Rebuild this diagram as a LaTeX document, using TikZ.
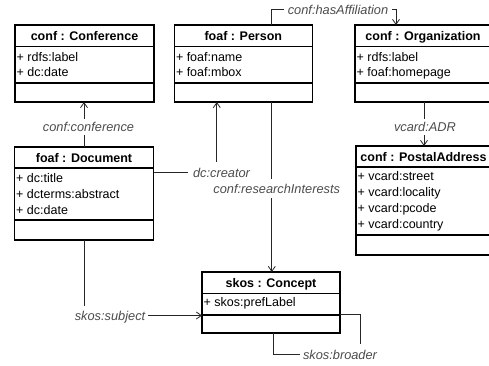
\documentclass[tikz,border=0pt]{standalone}
\usepackage{fontspec}
\setmainfont{Liberation Sans}
\usetikzlibrary{arrows.meta,calc}
\begin{document}
\begin{tikzpicture}[x=1pt,y=-1pt,
  box/.style={draw, line width=1.5pt, inner sep=0pt, outer sep=0pt, anchor=north west},
  sepline/.style={line width=1.5pt},
  ttl/.style={font=\bfseries\fontsize{12.5}{15}\selectfont, anchor=base, inner sep=0pt},
  att/.style={font=\fontsize{12.5}{15}\selectfont, anchor=base west, inner sep=0pt},
  lbl/.style={font=\itshape\fontsize{12.8}{15}\selectfont, text=black!70, fill=white, inner xsep=3pt, inner ysep=3pt},
  conn/.style={line width=0.8pt, draw=black!85},
  arr/.style={conn, -{Straight Barb[length=5pt,width=7pt]}}
]
\useasboundingbox (0,0) rectangle (489,365);

% ---- conf : Conference
\node[box, minimum width=139pt, minimum height=77pt] (conf) at (15,25) {};
\draw[sepline] ($(conf.north west)+(0,21.5)$) -- ($(conf.north east)+(0,21.5)$);
\draw[sepline] ($(conf.north west)+(0,58)$) -- ($(conf.north east)+(0,58)$);
\node[ttl] (confT) at ($(conf.north)+(0,15)$) {conf : Conference};
\node[att] (confA1) at ($(conf.north west)+(1.5,36.5)$) {+ rdfs:label};
\node[att] (confA2) at ($(conf.north west)+(1.5,51.5)$) {+ dc:date};

% ---- foaf : Person
\node[box, minimum width=138pt, minimum height=77pt] (person) at (174.3,25) {};
\draw[sepline] ($(person.north west)+(0,21.5)$) -- ($(person.north east)+(0,21.5)$);
\draw[sepline] ($(person.north west)+(0,58)$) -- ($(person.north east)+(0,58)$);
\node[ttl] (personT) at ($(person.north)+(0,15)$) {foaf : Person};
\node[att] (personA1) at ($(person.north west)+(1.5,36.5)$) {+ foaf:name};
\node[att] (personA2) at ($(person.north west)+(1.5,51.5)$) {+ foaf:mbox};

% ---- conf : Organization
\node[box, minimum width=136pt, minimum height=77pt] (org) at (355,25) {};
\draw[sepline] ($(org.north west)+(0,21.5)$) -- ($(org.north east)+(0,21.5)$);
\draw[sepline] ($(org.north west)+(0,58)$) -- ($(org.north east)+(0,58)$);
\node[ttl] (orgT) at ($(org.north)+(0,15)$) {conf : Organization};
\node[att] (orgA1) at ($(org.north west)+(1.5,36.5)$) {+ rdfs:label};
\node[att] (orgA2) at ($(org.north west)+(1.5,51.5)$) {+ foaf:homepage};

% ---- foaf : Document
\node[box, minimum width=139pt, minimum height=93pt] (doc) at (14.5,147) {};
\draw[sepline] ($(doc.north west)+(0,21)$) -- ($(doc.north east)+(0,21)$);
\draw[sepline] ($(doc.north west)+(0,73)$) -- ($(doc.north east)+(0,73)$);
\node[ttl] (docT) at ($(doc.north)+(0,15)$) {foaf : Document};
\node[att] (docA1) at ($(doc.north west)+(1.5,35.5)$) {+ dc:title};
\node[att] (docA2) at ($(doc.north west)+(1.5,51.3)$) {+ dcterms:abstract};
\node[att] (docA3) at ($(doc.north west)+(1.5,67)$) {+ dc:date};

% ---- conf : PostalAddress
\node[box, minimum width=135pt, minimum height=109pt] (postal) at (356,146) {};
\draw[sepline] ($(postal.north west)+(0,21)$) -- ($(postal.north east)+(0,21)$);
\draw[sepline] ($(postal.north west)+(0,89)$) -- ($(postal.north east)+(0,89)$);
\node[ttl] (postalT) at ($(postal.north)+(0,15)$) {conf : PostalAddress};
\node[att] (postalA1) at ($(postal.north west)+(1.5,34.5)$) {+ vcard:street};
\node[att] (postalA2) at ($(postal.north west)+(1.5,50.5)$) {+ vcard:locality};
\node[att] (postalA3) at ($(postal.north west)+(1.5,66.5)$) {+ vcard:pcode};
\node[att] (postalA4) at ($(postal.north west)+(1.5,82.5)$) {+ vcard:country};

% ---- skos : Concept
\node[box, minimum width=138pt, minimum height=61pt] (concept) at (202,272) {};
\draw[sepline] ($(concept.north west)+(0,21.5)$) -- ($(concept.north east)+(0,21.5)$);
\draw[sepline] ($(concept.north west)+(0,43)$) -- ($(concept.north east)+(0,43)$);
\node[ttl] (conceptT) at ($(concept.north)+(0,15)$) {skos : Concept};
\node[att] (conceptA1) at ($(concept.north west)+(1.5,34.5)$) {+ skos:prefLabel};

% ---- connectors
\draw[arr] (doc.north) -- (doc.north |- conf.south);
\node[lbl] (lconf) at (88.5,127) {conf:conference};

\draw[arr] ($(person.south west)+(97.5,0)$) -- ($(concept.north west)+(69.8,0)$);
\node[lbl, inner ysep=5pt] (lresearch) at (276.7,188.5) {conf:researchInterests};

\draw[arr] ($(doc.north east)+(0,25)$) -| ($(person.south west)+(42.5,0)$);
\node[lbl, inner xsep=5pt, inner ysep=6pt] (lcreator) at (221.5,173) {dc:creator};

\draw[arr] ($(person.north west)+(97.5,0)$) -- ++(0,-16) -| ($(org.north west)+(41,0)$);
\node[lbl, inner xsep=4pt] (laff) at (338,9.5) {conf:hasAffiliation};

\draw[arr] ($(org.south west)+(69,0)$) -- ($(postal.north west)+(68,0)$);
\node[lbl] (ladr) at (425,127) {vcard:ADR};

\draw[arr] (doc.south) |- ($(concept.north west)+(0,43.5)$);
\node[lbl, inner ysep=5pt] (lsubject) at (110,317) {skos:subject};

\draw[conn] ($(concept.north east)+(0,42)$) -- ++(20,0) |- ($(concept.south west)+(71,21)$) -- ($(concept.south west)+(71,0)$);
\node[lbl, inner ysep=6pt] (lbroader) at (340,355) {skos:broader};
\end{tikzpicture}
\end{document}
